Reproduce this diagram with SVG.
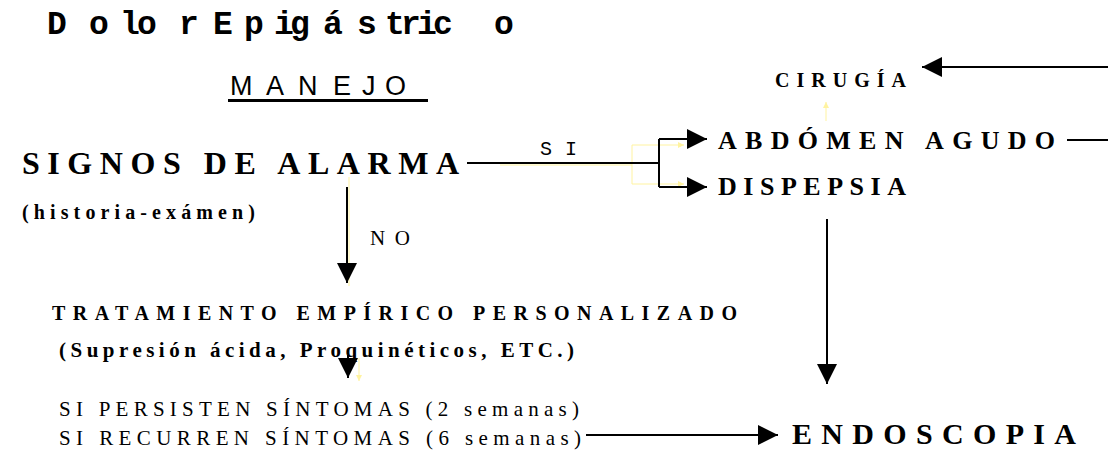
<svg xmlns="http://www.w3.org/2000/svg" width="1108" height="453" viewBox="0 0 1108 453">
  <defs>
    <style>
      .ser { font-family: "Liberation Serif", "Times New Roman", serif; fill: #000; }
      .b { font-weight: bold; }
      .mono { font-family: "Liberation Mono", "Courier New", monospace; fill: #000; }
      .sans { font-family: "Liberation Sans", Arial, sans-serif; fill: #000; }
      .conn { fill: none; stroke: #000; stroke-width: 2; }
      .ghost { fill: none; stroke: #fff3a0; stroke-width: 1; }
    </style>
    <marker id="arr" markerUnits="userSpaceOnUse" markerWidth="21" markerHeight="21" refX="20" refY="10" orient="auto" viewBox="0 0 21 21">
      <path d="M0,0 L20,10 L0,20 Z" fill="#000"/>
    </marker>
    <marker id="garr" markerUnits="userSpaceOnUse" markerWidth="7" markerHeight="7" refX="6" refY="3" orient="auto" viewBox="0 0 7 7">
      <path d="M0,0 L6,3 L0,6 Z" fill="#fff3a0"/>
    </marker>
  </defs>
  <rect width="1108" height="453" fill="#fff"/>

  <g id="title">
    <text class="mono b" font-size="33" y="34" x="47 89 120 137 179 200 213 244 274 290 323 357 385 401 417 433 494">Dolor Epigástrico</text>
  </g>

  <g id="manejo">
    <text class="sans" font-size="27" y="95" x="230 266 298 333 362 385">MANEJO</text>
    <rect x="228" y="99" width="200" height="3" fill="#000"/>
  </g>

  <g id="connectors">
    <!-- faint ghost lines -->
    <path class="ghost" d="M500,165 H632 M632,145 V184"/>
    <path class="ghost" d="M632,145 H684" marker-end="url(#garr)"/>
    <path class="ghost" d="M632,184 H684" marker-end="url(#garr)"/>
    <path class="ghost" d="M826,121 V102" marker-end="url(#garr)"/>
    <path class="ghost" d="M349,177 V286"/>
    <path class="ghost" d="M359,358 V381" marker-end="url(#garr)"/>

    <!-- SIGNOS -> branch -->
    <path class="conn" d="M467,163 H659"/>
    <path class="conn" d="M659,139 V187"/>
    <path class="conn" d="M659,139 H707" marker-end="url(#arr)"/>
    <path class="conn" d="M659,187 H707" marker-end="url(#arr)"/>
    <!-- SIGNOS -> NO -> tratamiento -->
    <path class="conn" d="M347,187 V283" marker-end="url(#arr)"/>
    <!-- abdomen agudo -> cirugia -->
    <path class="conn" d="M1067,140 H1120 V67 H922" marker-end="url(#arr)"/>
    <!-- dispepsia -> endoscopia -->
    <path class="conn" d="M827,219 V384" marker-end="url(#arr)"/>
    <!-- tratamiento -> si persisten -->
    <path class="conn" d="M348,355 V378" marker-end="url(#arr)"/>
    <!-- si recurren -> endoscopia -->
    <path class="conn" d="M586,435 H778" marker-end="url(#arr)"/>

    <text class="mono" font-size="20" x="540" y="155" textLength="37" lengthAdjust="spacing">SI</text>
    <text class="ser" font-size="21" x="370" y="245" textLength="40" lengthAdjust="spacing">NO</text>
  </g>

  <g id="signos">
    <text class="ser b" font-size="32" x="22" y="174" textLength="437" lengthAdjust="spacing">SIGNOS DE ALARMA</text>
    <text class="ser b" font-size="20" x="22" y="219" textLength="233" lengthAdjust="spacing">(historia-exámen)</text>
  </g>

  <g id="cirugia">
    <text class="ser b" font-size="20" x="775" y="87" textLength="131" lengthAdjust="spacing">CIRUGÍA</text>
  </g>

  <g id="abdomen">
    <text class="ser b" font-size="26" x="718" y="149" textLength="337" lengthAdjust="spacing">ABDÓMEN AGUDO</text>
  </g>

  <g id="dispepsia">
    <text class="ser b" font-size="26" x="718" y="195" textLength="188" lengthAdjust="spacing">DISPEPSIA</text>
  </g>

  <g id="tratamiento">
    <text class="ser b" font-size="20" x="52" y="320" textLength="685" lengthAdjust="spacing">TRATAMIENTO EMPÍRICO PERSONALIZADO</text>
    <text class="ser b" font-size="21" x="59" y="357" textLength="515" lengthAdjust="spacing">(Supresión ácida, Proquinéticos, ETC.)</text>
  </g>

  <g id="sintomas">
    <text class="ser" font-size="21" x="59" y="416" textLength="520" lengthAdjust="spacing">SI PERSISTEN SÍNTOMAS (2 semanas)</text>
    <text class="ser" font-size="21" x="59" y="445" textLength="522" lengthAdjust="spacing">SI RECURREN SÍNTOMAS (6 semanas)</text>
  </g>

  <g id="endoscopia">
    <text class="ser b" font-size="30" x="792" y="444" textLength="284" lengthAdjust="spacing">ENDOSCOPIA</text>
  </g>
</svg>
